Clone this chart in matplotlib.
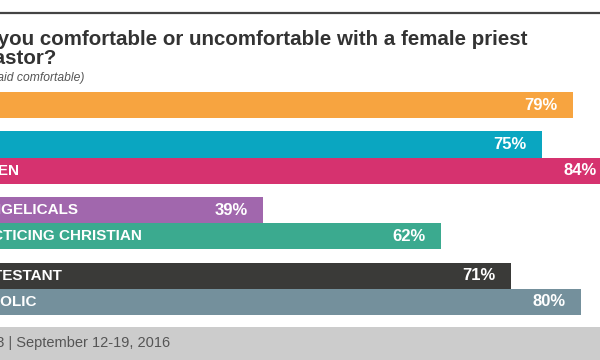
import matplotlib
matplotlib.use('Agg')
import matplotlib.pyplot as plt
from matplotlib.patches import Rectangle
from matplotlib.lines import Line2D

plt.rcParams['font.family'] = ['Liberation Sans', 'DejaVu Sans']

# data
labels = ['ALL', 'MEN', 'WOMEN', 'EVANGELICALS', 'PRACTICING CHRISTIAN',
          'PROTESTANT', 'CATHOLIC']
values = [79, 75, 84, 39, 62, 71, 80]
group = [0, 1, 1, 2, 2, 3, 3]
colors = ['#F7A440', '#0AA6C1', '#D6326F', '#A167AD', '#3BAA8F',
          '#3A3A38', '#74909C']

title = 'Are you comfortable or uncomfortable with a female priest'
title2 = 'or pastor?'
subtitle = '(% said comfortable)'
footer = 'n=1,023 | September 12-19, 2016'

W, H = 600, 360
fig = plt.figure(figsize=(6, 3.6), dpi=100)
fig.patch.set_facecolor('white')

# bars axes, partly outside the left edge (the picture is cropped)
x0 = -39.5
xscale = 7.756
ax = fig.add_axes([x0 / W, 45 / H, 100 * xscale / W, 223 / H])
pos = [i + 0.5 * g for i, g in enumerate(group)]
ax.barh(pos, values, height=1.0, color=colors)
ax.set_xlim(0, 100)
ax.set_ylim(8.0, -0.5)
ax.axis('off')

for p, v, lab in zip(pos, values, labels):
    ax.annotate(lab, (0, p), xytext=(-0.5, 0), textcoords='offset points',
                ha='left', va='center', color='white', fontsize=11,
                fontweight='bold')
    ax.annotate(f'{v}%', (v, p), xytext=(-11, 0), textcoords='offset points',
                ha='right', va='center', color='white', fontsize=12,
                fontweight='bold')

# top rule
fig.add_artist(Line2D([0, 1], [1 - 13 / H, 1 - 13 / H], color='#444444',
                      lw=1.6, transform=fig.transFigure))

# titles
fig.text(527 / W, 1 - 45 / H, title, ha='right', va='baseline',
         fontsize=14.8, fontweight='bold', color='#333333')
fig.text(56 / W, 1 - 64 / H, title2, ha='right', va='baseline',
         fontsize=14.8, fontweight='bold', color='#333333')
fig.text(84 / W, 1 - 81 / H, subtitle, ha='right', va='baseline',
         fontsize=8.7, style='italic', color='#555555')

# footer band
fig.add_artist(Rectangle((0, 0), 1, 33 / H, transform=fig.transFigure,
                         facecolor='#CCCCCC', edgecolor='none'))
fig.text(170 / W, 1 - 347 / H, footer, ha='right', va='baseline',
         fontsize=10.5, color='#555555')

fig.savefig('out.png', dpi=100)
